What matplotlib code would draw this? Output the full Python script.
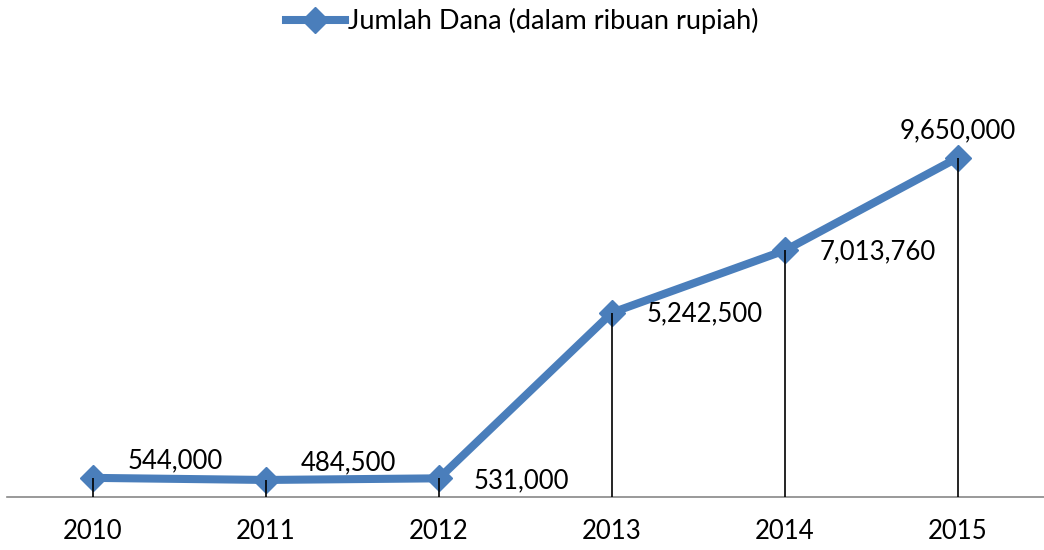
import matplotlib
matplotlib.use("Agg")
import matplotlib.pyplot as plt

# Data
years = ["2010", "2011", "2012", "2013", "2014", "2015"]
dana = [544000, 484500, 531000, 5242500, 7013760, 9650000]
series_name = "Jumlah Dana (dalam ribuan rupiah)"

# label offsets (points) per data label, as seen in the picture
lbl_dx = [25, 25, 25, 25, 25, 0]
lbl_dy = [12, 12, -1.5, -1, -1, 19]
lbl_ha = ["left", "left", "left", "left", "left", "center"]

plt.rcParams["font.family"] = ["Lato", "DejaVu Sans"]
blue = "#4a7ebb"

fig = plt.figure(figsize=(10.44, 5.5), dpi=100)
ax = fig.add_axes([6.5 / 1044, 53 / 550, 1038 / 1044, 422 / 550])

x = list(range(len(years)))
ax.plot(x, dana, color=blue, lw=5.8, marker="D", ms=13, mfc=blue, mec=blue,
        solid_joinstyle="miter", label=series_name, zorder=3)
ax.vlines(x, 0, dana, color="black", lw=1.2, zorder=4)

for i, v in enumerate(dana):
    ax.annotate(f"{v:,}", (i, v), xytext=(lbl_dx[i], lbl_dy[i]), textcoords="offset points",
                ha=lbl_ha[i], va="center", fontsize=18.5, color="black")

ax.set_xlim(-0.5, len(years) - 0.5)
ax.set_ylim(0, 12000000)
ax.set_xticks(x)
ax.set_xticklabels(years, fontsize=18.5)
ax.tick_params(axis="x", length=0, pad=16)
ax.set_yticks([])
for s in ["top", "right", "left"]:
    ax.spines[s].set_visible(False)
ax.spines["bottom"].set_color("#888888")
ax.spines["bottom"].set_linewidth(1.2)

fig.legend(loc="upper center", bbox_to_anchor=(0.5, 1.03), frameon=False, fontsize=19.5,
           handlelength=2.2, handletextpad=0.1)

fig.savefig("out.png", dpi=100)
